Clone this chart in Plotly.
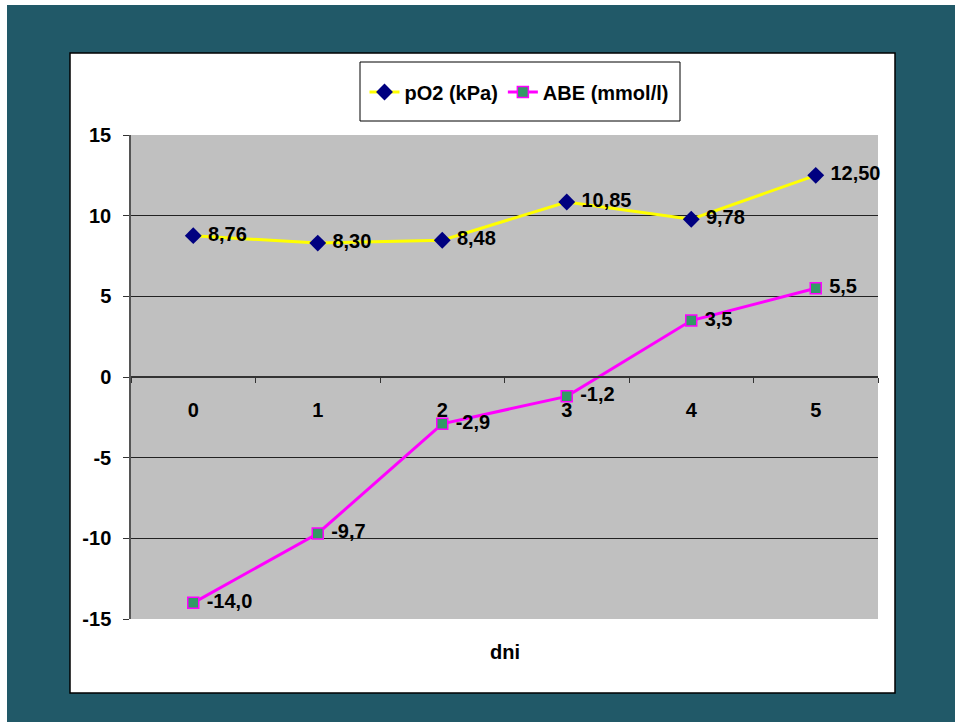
import plotly.graph_objects as go

days = ["0", "1", "2", "3", "4", "5"]
po2 = [8.76, 8.30, 8.48, 10.85, 9.78, 12.50]
abe = [-14.0, -9.7, -2.9, -1.2, 3.5, 5.5]
po2_labels = ["8,76", "8,30", "8,48", "10,85", "9,78", "12,50"]
abe_labels = ["-14,0", "-9,7", "-2,9", "-1,2", "3,5", "5,5"]
y_ticks = [-15, -10, -5, 0, 5, 10, 15]

FONT = "Liberation Sans, Arial, sans-serif"

W, H = 955, 722
L, R, T, B = 131, 878, 135, 619
pw, ph = R - L, B - T

def px(X):
    return (X - L) / pw

def py(Y):
    return (B - Y) / ph

fig = go.Figure()
fig.add_trace(go.Scatter(
    x=days, y=po2, name="pO2 (kPa)", mode="lines+markers+text",
    line=dict(color="#FFFF00", width=3),
    marker=dict(symbol="diamond", size=13, color="#000080"),
    text=po2_labels, texttemplate=" %{text}", textposition="middle right",
    textfont=dict(family=FONT, size=20, color="black", weight="bold"),
    cliponaxis=False,
))
fig.add_trace(go.Scatter(
    x=days, y=abe, name="ABE (mmol/l)", mode="lines+markers+text",
    line=dict(color="#FF00FF", width=3),
    marker=dict(symbol="square", size=11, color="#339966",
                line=dict(color="#FF00FF", width=1.5)),
    text=abe_labels, texttemplate=" %{text}", textposition="middle right",
    textfont=dict(family=FONT, size=20, color="black", weight="bold"),
    cliponaxis=False,
))

shapes = [
    dict(type="rect", xref="paper", yref="paper", x0=px(7), x1=px(970),
         y0=py(740), y1=py(5), fillcolor="#215968", line=dict(width=0), layer="below"),
    dict(type="rect", xref="paper", yref="paper", x0=px(70), x1=px(895),
         y0=py(693), y1=py(53), fillcolor="white", line=dict(color="black", width=1.5), layer="below"),
    dict(type="rect", xref="paper", yref="paper", x0=0, x1=1, y0=0, y1=1,
         fillcolor="#C0C0C0", line=dict(width=0), layer="below"),
    dict(type="rect", xref="paper", yref="paper", x0=px(360), x1=px(680),
         y0=py(121), y1=py(62), fillcolor="white", line=dict(color="black", width=1), layer="below"),
]

fig.update_layout(
    width=W, height=H,
    margin=dict(l=L, r=W - R, t=T, b=H - B),
    paper_bgcolor="white", plot_bgcolor="#C0C0C0",
    font=dict(family=FONT, size=20, color="black", weight="bold"),
    shapes=shapes,
    showlegend=True,
    legend=dict(orientation="h", x=px(519), xanchor="center", y=py(92), yanchor="middle",
                bgcolor="rgba(0,0,0,0)", borderwidth=0,
                font=dict(family=FONT, size=20, color="black", weight="bold")),
    annotations=[dict(text="dni", xref="paper", yref="paper", x=0.5, y=py(652),
                      xanchor="center", yanchor="middle", showarrow=False,
                      font=dict(family=FONT, size=20, color="black", weight="bold"))],
)

fig.update_xaxes(
    type="category", categoryorder="array", categoryarray=days,
    range=[-0.5, 5.5], anchor="free", position=0.5,
    showline=True, linecolor="#333333", linewidth=1.5,
    ticks="outside", ticklen=5, tickcolor="#333333", tickson="boundaries",
    showgrid=False, zeroline=False, ticklabelstandoff=15,
    tickfont=dict(family=FONT, size=20, color="black", weight="bold"),
)
fig.update_yaxes(
    range=[-15, 15], tickvals=y_ticks, ticktext=[str(v) for v in y_ticks],
    showgrid=True, gridcolor="#222222", gridwidth=1,
    showline=True, linecolor="#555555", linewidth=1.5,
    ticks="outside", ticklen=6, tickcolor="#333333",
    zeroline=False, ticklabelstandoff=8,
    tickfont=dict(family=FONT, size=20, color="black", weight="bold"),
)

fig.write_html(
    "out.html",
    config={"displayModeBar": False},
    post_script="document.body.style.margin='0';document.body.style.overflow='hidden';",
)
